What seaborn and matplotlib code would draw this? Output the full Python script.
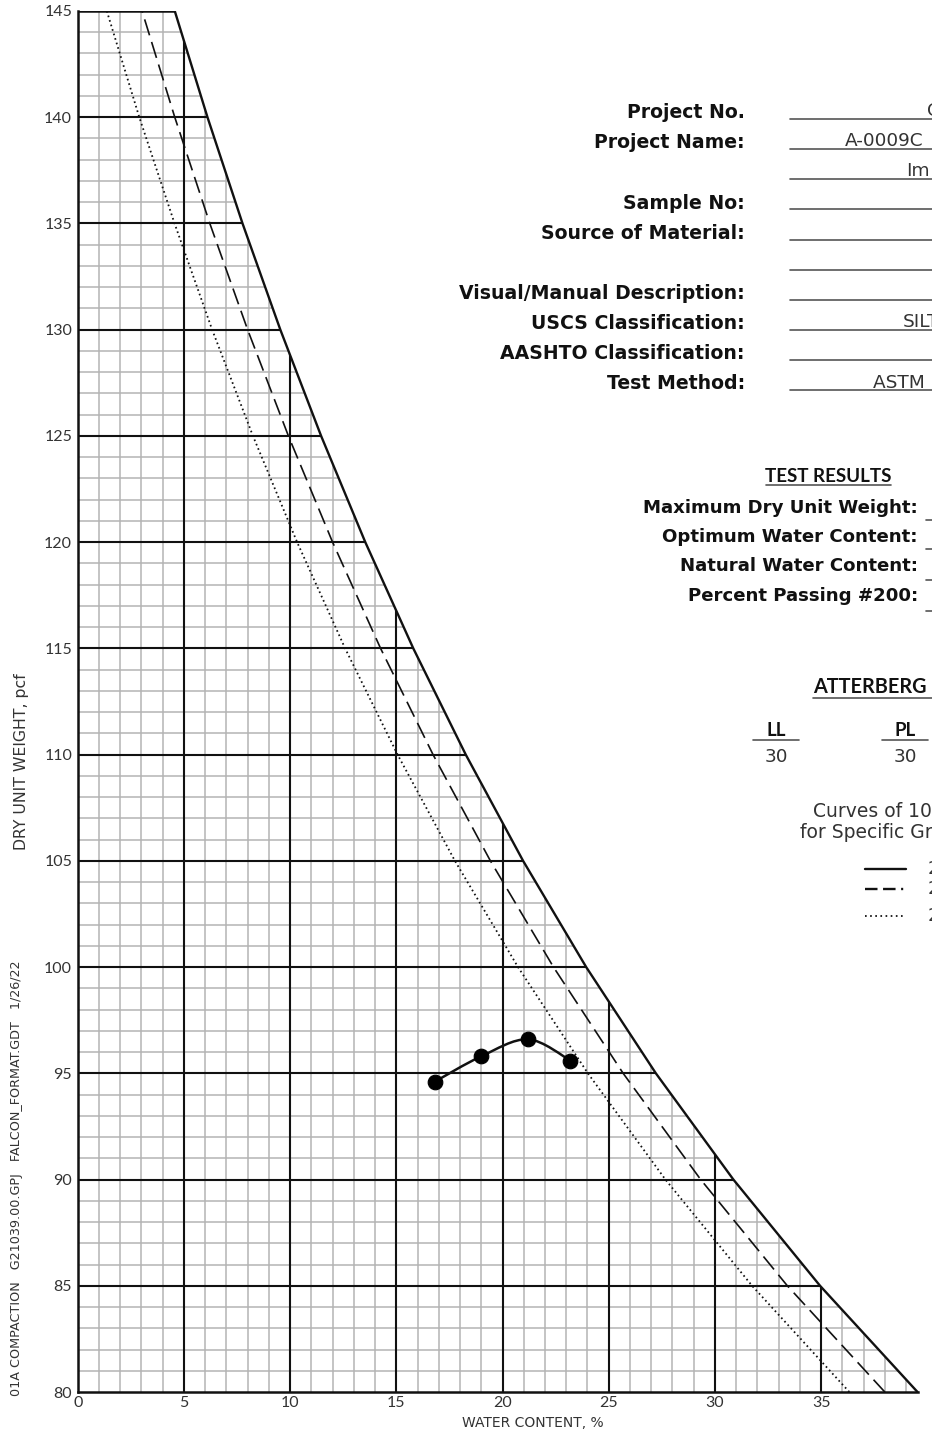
import matplotlib
matplotlib.use("Agg")
import matplotlib.pyplot as plt
import numpy as np
import pandas as pd
import seaborn as sns
from matplotlib.lines import Line2D
from matplotlib.patches import Polygon, PathPatch
from matplotlib.path import Path

# dry unit weight levels (pcf) at which the saturation curves were read
zav_density = [80, 85, 90, 95, 100, 105, 110, 115, 120, 125, 130, 135, 140, 145]
# water content (%) of each 100% saturation curve at those levels
zav_wc_260 = [39.54, 34.95, 30.87, 27.22, 23.94, 20.97, 18.27, 15.80, 13.54, 11.46, 9.54, 7.76, 6.11, 4.57]
zav_wc_250 = [38.00, 33.41, 29.33, 25.68, 22.40, 19.43, 16.73, 14.26, 12.00, 9.92, 8.00, 6.22, 4.57, 3.03]
zav_wc_240 = [36.33, 31.75, 27.67, 24.02, 20.73, 17.76, 15.06, 12.59, 10.33, 8.25, 6.33, 4.56, 2.90, 1.37]

# compaction test points
test_wc = [16.8, 19.0, 21.2, 23.2]
test_density = [94.6, 95.8, 96.6, 95.6]

x_ticks = [0, 5, 10, 15, 20, 25, 30, 35]
y_ticks = [80, 85, 90, 95, 100, 105, 110, 115, 120, 125, 130, 135, 140, 145]

info_labels = ["Project No.", "Project Name:", "", "Sample No:", "Source of Material:", "",
               "Visual/Manual Description:", "USCS Classification:", "AASHTO Classification:",
               "Test Method:"]
result_labels = ["Maximum Dry Unit Weight:", "Optimum Water Content:",
                 "Natural Water Content:", "Percent Passing #200:"]
gs_labels = ["2.60", "2.50", "2.40"]

W, H = 932, 1436

sns.set_style("white")
plt.rcParams["font.family"] = ["Lato", "DejaVu Sans"]
plt.rcParams["lines.scale_dashes"] = False

WIDE = ["DejaVu Sans"]
NARROW = ["Lato", "DejaVu Sans"]

fig = plt.figure(figsize=(W / 100, H / 100), dpi=100)


def fx(px):
    return px / W


def fy(py):
    return 1 - py / H


ax = fig.add_axes([fx(77.7), fy(1392), 849.6 / W, 1381 / H])
ax.set_xlim(0, 40)
ax.set_ylim(80, 145)

# region under the 2.60 curve: the grid only lives there
verts = [(0, 80)] + list(zip(zav_wc_260, zav_density)) + [(0, 145)]
region = Polygon(verts, closed=True, facecolor="none", edgecolor="none",
                 transform=ax.transData)
ax.add_patch(region)

minor_x = [v for v in range(1, 40) if v % 5 != 0]
minor_y = [v for v in range(81, 145) if v % 5 != 0]
major_x = [v for v in range(5, 40, 5)]
major_y = [v for v in range(85, 145, 5)]

c1 = ax.vlines(minor_x, 80, 145, color="#b4b4b4", lw=1.1, zorder=1)
c2 = ax.hlines(minor_y, 0, 40, color="#b4b4b4", lw=1.1, zorder=1)
c3 = ax.vlines(major_x, 80, 145, color="#111111", lw=1.5, zorder=2)
c4 = ax.hlines(major_y, 0, 40, color="#111111", lw=1.5, zorder=2)
for c in (c1, c2, c3, c4):
    c.set_clip_path(region)

# saturation curves
sns.lineplot(x=zav_wc_260, y=zav_density, sort=False, estimator=None, ax=ax,
             color="#111111", lw=1.7, zorder=4)
sns.lineplot(x=zav_wc_250, y=zav_density, sort=False, estimator=None, ax=ax,
             color="#111111", lw=1.2, linestyle=(0, (12, 5)), zorder=4)
sns.lineplot(x=zav_wc_240, y=zav_density, sort=False, estimator=None, ax=ax,
             color="#111111", lw=1.3, linestyle=(0, (1.2, 2.2)), zorder=4)

# frame: top edge at 145 up to the curve
ax.hlines(145, 0, zav_wc_260[-1], color="#111111", lw=1.8, zorder=4)

# smooth compaction curve through the test points (Catmull-Rom as Bezier)
pts = np.column_stack([test_wc, test_density])
ext = np.vstack([pts[0], pts, pts[-1]])
codes = [Path.MOVETO]
path_verts = [tuple(pts[0])]
for i in range(1, len(ext) - 2):
    p0, p1, p2, p3 = ext[i - 1], ext[i], ext[i + 1], ext[i + 2]
    path_verts += [tuple(p1 + (p2 - p0) / 6), tuple(p2 - (p3 - p1) / 6), tuple(p2)]
    codes += [Path.CURVE4] * 3
ax.add_patch(PathPatch(Path(path_verts, codes), facecolor="none",
                       edgecolor="#111111", lw=1.8, zorder=5))
sns.scatterplot(x=test_wc, y=test_density, ax=ax, s=110, color="#000000",
                edgecolor="#000000", zorder=6)

for side in ["top", "right"]:
    ax.spines[side].set_visible(False)
for side in ["left", "bottom"]:
    ax.spines[side].set_color("#111111")
    ax.spines[side].set_linewidth(1.8)
ax.spines["left"].set_bounds(80, 145)
ax.spines["bottom"].set_bounds(0, zav_wc_260[0])

ax.set_xticks(x_ticks)
ax.set_yticks(y_ticks)
ax.set_xticklabels([str(t) for t in x_ticks])
ax.set_yticklabels([str(t) for t in y_ticks])
ax.tick_params(length=0, labelsize=11.5, labelcolor="#333333")
ax.tick_params(axis="x", pad=3)
ax.tick_params(axis="y", pad=4)
ax.set_xlabel("")
ax.set_ylabel("")

fig.text(fx(533), fy(1427), "WATER CONTENT, %", ha="center", va="baseline",
         fontsize=10, color="#333333", family=WIDE)
fig.text(fx(29), fy(762), "DRY UNIT WEIGHT, pcf", rotation=90, ha="right", va="center",
         fontsize=11.3, color="#333333", family=WIDE)
fig.text(fx(23), fy(1396), "01A COMPACTION   G21039.00.GPJ   FALCON_FORMAT.GDT   1/26/22",
         rotation=90, ha="right", va="bottom", fontsize=9.2, color="#333333", family=WIDE)

# project information block
label_base = [117.5, 148, 178, 209, 239, 269, 299, 329, 359, 389]
line_y = [118.5, 149, 178.5, 208.5, 239.5, 270, 299.5, 329.5, 360, 390]
for lab, yb, yl in zip(info_labels, label_base, line_y):
    if lab:
        fig.text(fx(745), fy(yb), lab, ha="right", va="baseline", fontsize=13.6,
                 fontweight="bold", color="#111111", family=WIDE)
    fig.add_artist(Line2D([fx(790), fx(940)], [fy(yl), fy(yl)], color="#555555", lw=1.2))

val_kw = dict(ha="left", va="baseline", fontsize=13.3, color="#333333", family=WIDE)
fig.text(fx(927), fy(116), "G21039.00", **val_kw)
fig.text(fx(845), fy(146), "A-0009C", **val_kw)
fig.text(fx(906), fy(176), "Im", **val_kw)
fig.text(fx(903), fy(327), "SILT", **val_kw)
fig.text(fx(873), fy(388), "ASTM D698", **val_kw)

# test results
fig.text(fx(828), fy(482), "TEST RESULTS", ha="center", va="baseline", fontsize=13.5,
         fontweight="bold", color="#111111", family=NARROW)
fig.add_artist(Line2D([fx(766), fx(891)], [fy(485), fy(485)], color="#555555", lw=1.2))
res_base = [513, 542, 571, 601]
res_line = [520, 549, 580, 611]
for lab, yb, yl in zip(result_labels, res_base, res_line):
    fig.text(fx(918), fy(yb), lab, ha="right", va="baseline", fontsize=13.1,
             fontweight="bold", color="#111111", family=WIDE)
    fig.add_artist(Line2D([fx(926), fx(940)], [fy(yl), fy(yl)], color="#555555", lw=1.2))

# atterberg limits
fig.text(fx(813), fy(693), "ATTERBERG LIMITS", ha="left", va="baseline", fontsize=14.3,
         fontweight="bold", color="#111111", family=NARROW)
fig.add_artist(Line2D([fx(813), fx(940)], [fy(698), fy(698)], color="#555555", lw=1.2))
for cx, name in [(776, "LL"), (905, "PL")]:
    fig.text(fx(cx), fy(736), name, ha="center", va="baseline", fontsize=13.5,
             fontweight="bold", color="#111111", family=NARROW)
    fig.add_artist(Line2D([fx(cx - 23), fx(cx + 23)], [fy(740), fy(740)], color="#555555", lw=1.2))
    fig.text(fx(cx), fy(762), "30", ha="center", va="baseline", fontsize=13.3,
             color="#333333", family=WIDE)

fig.text(fx(813), fy(817), "Curves of 100% Saturation", ha="left", va="baseline",
         fontsize=13.5, color="#333333", family=WIDE)
fig.text(fx(800), fy(838), "for Specific Gravity Equal to:", ha="left", va="baseline",
         fontsize=13.5, color="#333333", family=WIDE)
leg_y = [869, 889, 916]
leg_style = [("-", 1.7), ((0, (9, 4, 9, 4, 1.5, 4)), 1.7), ((0, (1.2, 2.5)), 1.3)]
for yl, (ls, lw), g in zip(leg_y, leg_style, gs_labels):
    fig.add_artist(Line2D([fx(865), fx(906)], [fy(yl), fy(yl)], color="#111111",
                          lw=lw, linestyle=ls))
    fig.text(fx(928), fy(yl), g, ha="left", va="center", fontsize=13, color="#333333",
             family=WIDE)

fig.savefig("out.png", dpi=100)
